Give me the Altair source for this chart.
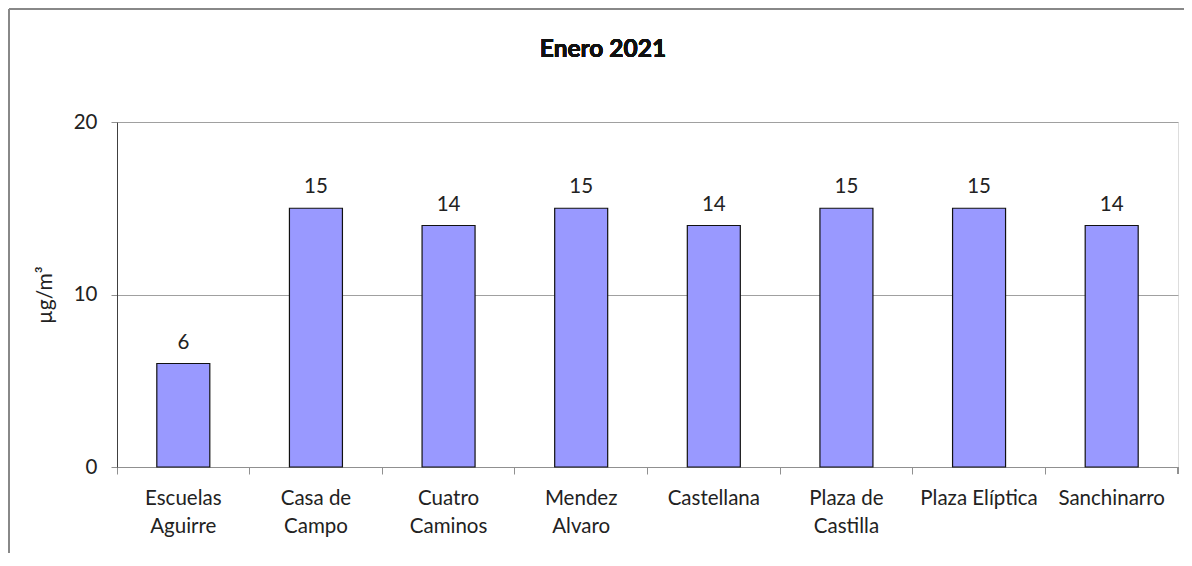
import altair as alt
import pandas as pd

categories = ["Escuelas\nAguirre", "Casa de\nCampo", "Cuatro\nCaminos", "Mendez\nAlvaro",
              "Castellana", "Plaza de\nCastilla", "Plaza Elíptica", "Sanchinarro"]
values = [6, 15, 14, 15, 14, 15, 15, 14]
y_ticks = [0, 10, 20]
title_text = "Enero 2021"
y_title = "µg/m³"

df = pd.DataFrame({"station": categories, "value": values})

W, H = 1061, 345
FONT = "Lato"
FS = 20.5

x_enc = alt.X("station:N", sort=categories, title=None,
              scale=alt.Scale(paddingInner=0, paddingOuter=0),
              axis=alt.Axis(bandPosition=0, labelAngle=0,
                            labelExpr="split(datum.label, '\\n')",
                            labelLineHeight=28, labelFontSize=FS, labelFont=FONT,
                            labelColor="#222222", labelPadding=14,
                            tickSize=7, tickColor="#909090", domainColor="#909090",
                            labelBaseline="top"))
y_enc = alt.Y("value:Q", title=y_title,
              scale=alt.Scale(domain=[0, 20], nice=False),
              axis=alt.Axis(values=y_ticks, tickSize=6, tickColor="#909090",
                            domainColor="#404040", gridColor="#a0a0a0",
                            labelFontSize=FS, labelFont=FONT, labelColor="#222222",
                            labelPadding=14, titleFont=FONT, titleFontSize=21,
                            titleFontWeight="normal", titleColor="#222222",
                            titleAngle=-90, titleX=-72, titleY=H / 2,
                            titleAlign="center", titleBaseline="middle"))

bars = alt.Chart(df).mark_bar(size=53, color="#9999ff", stroke="#111111",
                              strokeWidth=1.2).encode(x=x_enc, y=y_enc)
labels = alt.Chart(df).mark_text(font=FONT, fontSize=FS, color="#222222",
                                 baseline="alphabetic", dy=-15).encode(
    x=alt.X("station:N", sort=categories), y="value:Q", text="value:Q")

title_mark = alt.Chart(df).mark_text(font=FONT, fontSize=24.5, fontWeight="bold",
                                     color="#111111", baseline="alphabetic",
                                     align="center").encode(
    x=alt.value(486), y=alt.value(-65), text=alt.value(title_text))

right_tick = alt.Chart(df).mark_rule(color="#909090").encode(
    x=alt.value(W), y=alt.value(H), y2=alt.value(H + 7))
border_left = alt.Chart(df).mark_rule(color="#888888", strokeWidth=1.5).encode(
    x=alt.value(-108), y=alt.value(-113), y2=alt.value(H + 200))
border_top = alt.Chart(df).mark_rule(color="#888888", strokeWidth=1.5).encode(
    x=alt.value(-108), x2=alt.value(W + 200), y=alt.value(-113))

chart = alt.layer(bars, labels, title_mark, right_tick, border_left, border_top).properties(
    width=W, height=H,
    autosize=alt.AutoSizeParams(type="none"),
    padding={"left": 109, "top": 114, "right": 6, "bottom": 86},
).configure_view(stroke="#a0a0a0", strokeWidth=1.2).configure(background="white")

chart.save("out.html", embed_options={"renderer": "svg", "actions": False})
